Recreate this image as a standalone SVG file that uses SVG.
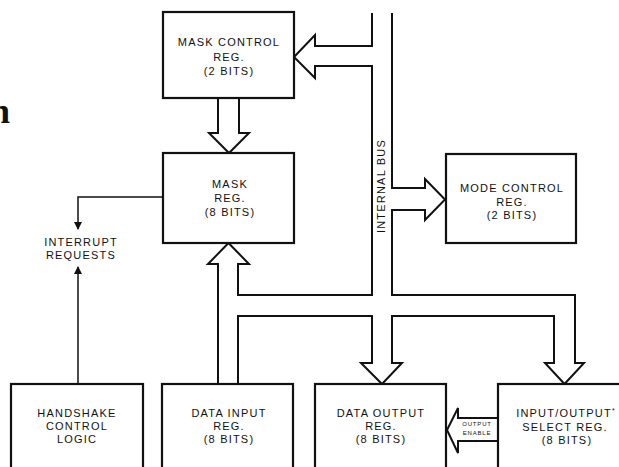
<svg xmlns="http://www.w3.org/2000/svg" width="619" height="467" viewBox="0 0 619 467">
<style>
.box{fill:#fff;stroke:#111;stroke-width:2.2}
.bus{fill:none;stroke:#111;stroke-width:2;stroke-linejoin:miter}
.ln{fill:none;stroke:#111;stroke-width:1.5}
.t{font-family:"Liberation Sans",Arial,sans-serif;font-size:11px;letter-spacing:1.2px;fill:#111;text-anchor:middle}
.s{font-family:"Liberation Sans",Arial,sans-serif;font-size:6px;letter-spacing:0.8px;fill:#111;text-anchor:middle}
</style>
<defs>
<marker id="ah" markerWidth="8" markerHeight="10" refX="7" refY="4" orient="auto" markerUnits="userSpaceOnUse">
<path d="M0,0 L8,4 L0,8 z" fill="#111"/>
</marker>
</defs>
<rect width="619" height="467" fill="#fff"/>
<text x="10" y="123" font-family="'Liberation Serif','Times New Roman',serif" font-weight="bold" font-size="36" text-anchor="end" fill="#111">n</text>

<g id="connectors">
<path class="bus" d="M218,98 L218,133 L209,133 L229,153 L249,133 L239,133 L239,98"/>
<path class="bus" d="M218,384 L218,264 L208,264 L228.5,243 L249,264 L238,264 L238,295 L372,295 L372,66 L315,66 L315,78 L294,57 L315,35 L315,46 L372,46 L372,13"/>
<path class="bus" d="M392,13 L392,188 L425,188 L425,179 L445,199.5 L425,220 L425,210 L392,210 L392,295 L575,295 L575,363 L584,363 L564.5,384 L545,363 L554,363 L554,316 L392,316 L392,363 L402,363 L382,384 L361,363 L372,363 L372,316 L238,316 L238,384"/>
<path class="bus" d="M498,418 L458,418 L458,408 L447,430 L458,453 L458,441 L498,441"/>
<path class="ln" d="M163,197 L78,197 L78,229" marker-end="url(#ah)"/>
<path class="ln" d="M78,384 L78,267" marker-end="url(#ah)"/>
<text class="s" x="477" y="426">OUTPUT</text>
<text class="s" x="477" y="435">ENABLE</text>
<text class="t" x="385" y="186" transform="rotate(-90 385 186)">INTERNAL BUS</text>
</g>

<g id="mask-control-reg">
<rect class="box" x="163" y="12" width="131" height="86"/>
<text class="t" x="229" y="46">MASK CONTROL</text>
<text class="t" x="229" y="60.5">REG.</text>
<text class="t" x="229" y="75">(2 BITS)</text>
</g>
<g id="mask-reg">
<rect class="box" x="163" y="153" width="131" height="90"/>
<text class="t" x="230" y="188">MASK</text>
<text class="t" x="230" y="202">REG.</text>
<text class="t" x="230" y="216">(8 BITS)</text>
</g>
<g id="mode-control-reg">
<rect class="box" x="446" y="154" width="130" height="89"/>
<text class="t" x="512" y="192">MODE CONTROL</text>
<text class="t" x="512" y="205.5">REG.</text>
<text class="t" x="512" y="219">(2 BITS)</text>
</g>
<g id="interrupt-requests">
<text class="t" x="81" y="246">INTERRUPT</text>
<text class="t" x="81" y="259">REQUESTS</text>
</g>
<g id="handshake">
<rect class="box" x="11" y="384" width="132" height="100"/>
<text class="t" x="77" y="417">HANDSHAKE</text>
<text class="t" x="77" y="430">CONTROL</text>
<text class="t" x="77" y="443">LOGIC</text>
</g>
<g id="data-input-reg">
<rect class="box" x="162" y="384" width="131" height="100"/>
<text class="t" x="229" y="417">DATA INPUT</text>
<text class="t" x="229" y="430">REG.</text>
<text class="t" x="229" y="443">(8 BITS)</text>
</g>
<g id="data-output-reg">
<rect class="box" x="315" y="384" width="131" height="100"/>
<text class="t" x="381" y="417">DATA OUTPUT</text>
<text class="t" x="381" y="430">REG.</text>
<text class="t" x="381" y="443">(8 BITS)</text>
</g>
<g id="io-select-reg">
<rect class="box" x="498" y="384" width="150" height="100"/>
<text class="t" x="566" y="417">INPUT/OUTPUT<tspan font-size="7" dy="-4">*</tspan></text>
<text class="t" x="565" y="431">SELECT REG.</text>
<text class="t" x="567" y="444">(8 BITS)</text>
</g>
</svg>
